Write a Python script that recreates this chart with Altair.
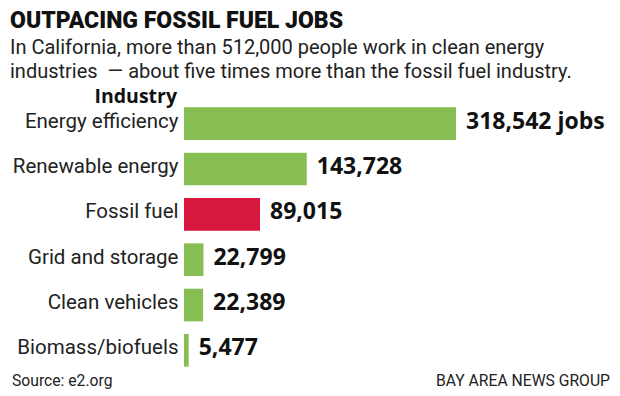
import altair as alt
import pandas as pd

industries = ["Energy efficiency", "Renewable energy", "Fossil fuel",
              "Grid and storage", "Clean vehicles", "Biomass/biofuels"]
jobs = [318542, 143728, 89015, 22799, 22389, 5477]
kinds = ["clean", "clean", "fossil", "clean", "clean", "clean"]
suffix = [" jobs", "", "", "", "", ""]

title_text = "OUTPACING FOSSIL FUEL JOBS"
subtitle_lines = ["In California, more than 512,000 people work in clean energy",
                  "industries \u00a0\u2014 about five times more than the fossil fuel industry."]
header_text = "Industry"
source_text = "Source: e2.org"
credit_text = "BAY AREA NEWS GROUP"

df = pd.DataFrame({"industry": industries, "jobs": jobs, "kind": kinds})
df["label"] = [f"{v:,}{s}" for v, s in zip(jobs, suffix)]

FONT = "Roboto"
W, H = 272, 272

y = alt.Y("industry:N", sort=industries,
          scale=alt.Scale(paddingInner=0.28, paddingOuter=0.14),
          axis=alt.Axis(title=None, domain=False, ticks=False, labelFont=FONT,
                        labelFontSize=20.5, labelColor="#222", labelPadding=6,
                        labelBaseline="alphabetic", labelOffset=4,
                        labelLimit=300))
x = alt.X("jobs:Q", axis=None, scale=alt.Scale(domain=[0, max(jobs)], nice=False))

bars = alt.Chart(df).mark_bar().encode(
    x=x, y=y,
    color=alt.Color("kind:N", scale=alt.Scale(domain=["clean", "fossil"],
                                              range=["#86BE54", "#D8173F"]), legend=None),
)
values = alt.Chart(df).mark_text(align="left", baseline="alphabetic", dx=10, dy=5,
                                 font="Open Sans", fontWeight="bold", fontSize=23,
                                 color="#111").encode(x=x, y=y, text="label:N")


def note(txt, xv, yv, font=FONT, **kw):
    return alt.Chart(pd.DataFrame({"t": [txt]})).mark_text(
        baseline="alphabetic", font=font, **kw).encode(
        x=alt.value(xv), y=alt.value(yv), text="t:N")


title = note(title_text, -174, -73.5, align="left", fontSize=23, fontWeight=900, color="#111")
sub1 = note(subtitle_lines[0], -174, -47, align="left", fontSize=20, color="#222")
sub2 = note(subtitle_lines[1], -174, -23.5, align="left", fontSize=20, color="#222")
header = note(header_text, -7, 2, font="Open Sans", align="right", fontSize=19.5,
              fontWeight="bold", color="#111")
source = note(source_text, -172, 285, align="left", fontSize=15.7, color="#222")
credit = note(credit_text, 426, 285, align="right", fontSize=15.7, color="#222")

chart = alt.layer(bars, values, title, sub1, sub2, header, source, credit).properties(
    width=W, height=H,
    autosize=alt.AutoSizeParams(type="none"),
    padding={"left": 176, "top": 93, "right": 156, "bottom": 17},
).configure_view(stroke=None)

chart.save("out.html", embed_options={"renderer": "svg", "actions": False})
